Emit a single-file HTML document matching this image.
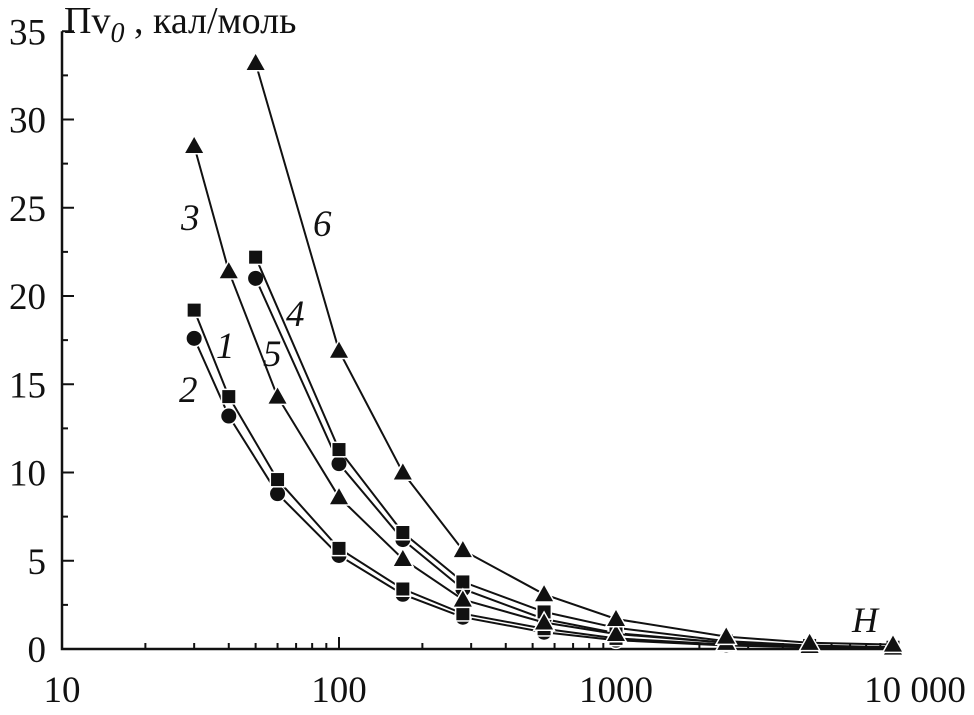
<!DOCTYPE html>
<html><head><meta charset="utf-8"><style>
html,body{margin:0;padding:0;background:#fff;}
svg{display:block;}
text{font-family:"Liberation Serif",serif;fill:#111;}
</style></head><body>
<svg id="chart" width="974" height="715" viewBox="0 0 974 715" xmlns="http://www.w3.org/2000/svg">
<g id="axes"></g>
<g id="series"></g>
<g id="labels"></g>
</svg>
<script>
const xTicksMajor = [10, 100, 1000, 10000];
const xTickLabels = ["10", "100", "1000", "10 000"];
const yTicks = [0, 5, 10, 15, 20, 25, 30, 35];
const s1x = [30, 40, 60, 100, 170, 280, 550, 1000, 2500, 5000, 10000];
const s1y = [19.2, 14.3, 9.6, 5.7, 3.4, 2.0, 1.15, 0.6, 0.25, 0.12, 0.06];
const s2x = [30, 40, 60, 100, 170, 280, 550, 1000, 2500, 5000, 10000];
const s2y = [17.6, 13.2, 8.8, 5.3, 3.1, 1.8, 0.95, 0.5, 0.2, 0.1, 0.05];
const s3x = [30, 40, 60, 100, 170, 280, 550, 1000, 2500, 5000, 10000];
const s3y = [28.5, 21.4, 14.3, 8.6, 5.1, 2.8, 1.5, 0.85, 0.35, 0.17, 0.08];
const s4x = [50, 100, 170, 280, 550, 1000, 2500, 5000, 10000];
const s4y = [22.2, 11.3, 6.6, 3.8, 2.1, 1.2, 0.45, 0.2, 0.1];
const s5x = [50, 100, 170, 280, 550, 1000, 2500, 5000, 10000];
const s5y = [21.0, 10.5, 6.2, 3.4, 1.7, 0.9, 0.35, 0.15, 0.07];
const s6x = [50, 100, 170, 280, 550, 1000, 2500, 5000, 10000];
const s6y = [33.2, 16.9, 10.0, 5.6, 3.1, 1.7, 0.7, 0.35, 0.25];

const NS = "http://www.w3.org/2000/svg";
const X0 = 62, DEC = 277, Y0 = 649, YU = 17.65;
function xs(v){ return X0 + DEC * (Math.log10(v) - 1); }
function ys(v){ return Y0 - YU * v; }
function mk(tag, attrs, parent){
  const e = document.createElementNS(NS, tag);
  for (const k in attrs) e.setAttribute(k, attrs[k]);
  parent.appendChild(e); return e;
}
const axes = document.getElementById('axes');
const ax = mk('path', {d:`M${X0},${ys(35)} V${Y0} H${xs(10000)}`, fill:'none', stroke:'#111', 'stroke-width':2.5}, axes);


for (let v = 0; v <= 35; v += 2.5) {
  const major = (v % 5 === 0);
  const t = mk('line', {x1:X0, x2:X0 + (major ? 12 : 6), y1:ys(v), y2:ys(v), stroke:'#111', 'stroke-width':2}, axes);
  
  
}
yTicks.forEach(v => {
  const t = mk('text', {x:46, y:ys(v) + 13, 'text-anchor':'end', 'font-size':37}, axes);
  t.textContent = String(v);
  
  
});
for (let d = 10; d < 10000; d *= 10) {
  for (let m = 1; m <= 10; m++) {
    const v = d * m;
    const major = (m === 1 || m === 10);
    const t = mk('line', {x1:xs(v), x2:xs(v), y1:Y0, y2:Y0 - (major ? 12 : 6), stroke:'#111', 'stroke-width':2}, axes);
    
    
  }
}
xTicksMajor.forEach((v, i) => {
  const off = i === 0 ? 0 : (i === 3 ? 22 : 0);
  const t = mk('text', {x:xs(v) + off, y:702, 'text-anchor':'middle', 'font-size':37}, axes);
  t.textContent = xTickLabels[i];
  
  
});
const yt = mk('text', {x:64, y:33, 'font-size':38}, axes);


yt.innerHTML = 'Пv<tspan font-style="italic" font-size="28" dy="9">0</tspan><tspan dy="-9"> , кал/моль</tspan>';
const xt = mk('text', {x:852, y:632, 'font-size':36, 'font-style':'italic'}, axes);
xt.textContent = 'H';



const sg = document.getElementById('series');
function drawSeries(xa, ya, shape, name){
  const g = mk('g', {}, sg);
  
  
  const d = xa.map((v, i) => (i ? 'L' : 'M') + xs(v).toFixed(1) + ',' + ys(ya[i]).toFixed(1)).join(' ');
  const p = mk('path', {d:d, fill:'none', stroke:'#111', 'stroke-width':2}, g);
  
  
  xa.forEach((v, i) => {
    const cx = xs(v), cy = ys(ya[i]);
    let m;
    const st = {fill:'#111', stroke:'#fff', 'stroke-width':3, 'paint-order':'stroke'};
    if (shape === 'square') m = mk('rect', Object.assign({x:cx - 6.5, y:cy - 6.5, width:13, height:13}, st), g);
    else if (shape === 'circle') m = mk('circle', Object.assign({cx:cx, cy:cy, r:7.5}, st), g);
    else m = mk('polygon', Object.assign({points:`${cx},${cy - 9} ${cx - 9},${cy + 7} ${cx + 9},${cy + 7}`}, st), g);
    
    
  });
}
drawSeries(s2x, s2y, 'circle', 'series-2');
drawSeries(s1x, s1y, 'square', 'series-1');
drawSeries(s5x, s5y, 'circle', 'series-5-circles');
drawSeries(s4x, s4y, 'square', 'series-4');
drawSeries(s3x, s3y, 'triangle', 'series-3');
drawSeries(s6x, s6y, 'triangle', 'series-6');

const lg = document.getElementById('labels');
[["3",181,230],["6",313,236],["4",286,326],["1",216,358],["5",263,366],["2",179,402]].forEach(a => {
  const t = mk('text', {x:a[1], y:a[2], 'font-size':37, 'font-style':'italic'}, lg);
  t.textContent = a[0];
  
  
});
</script>
</body></html>
